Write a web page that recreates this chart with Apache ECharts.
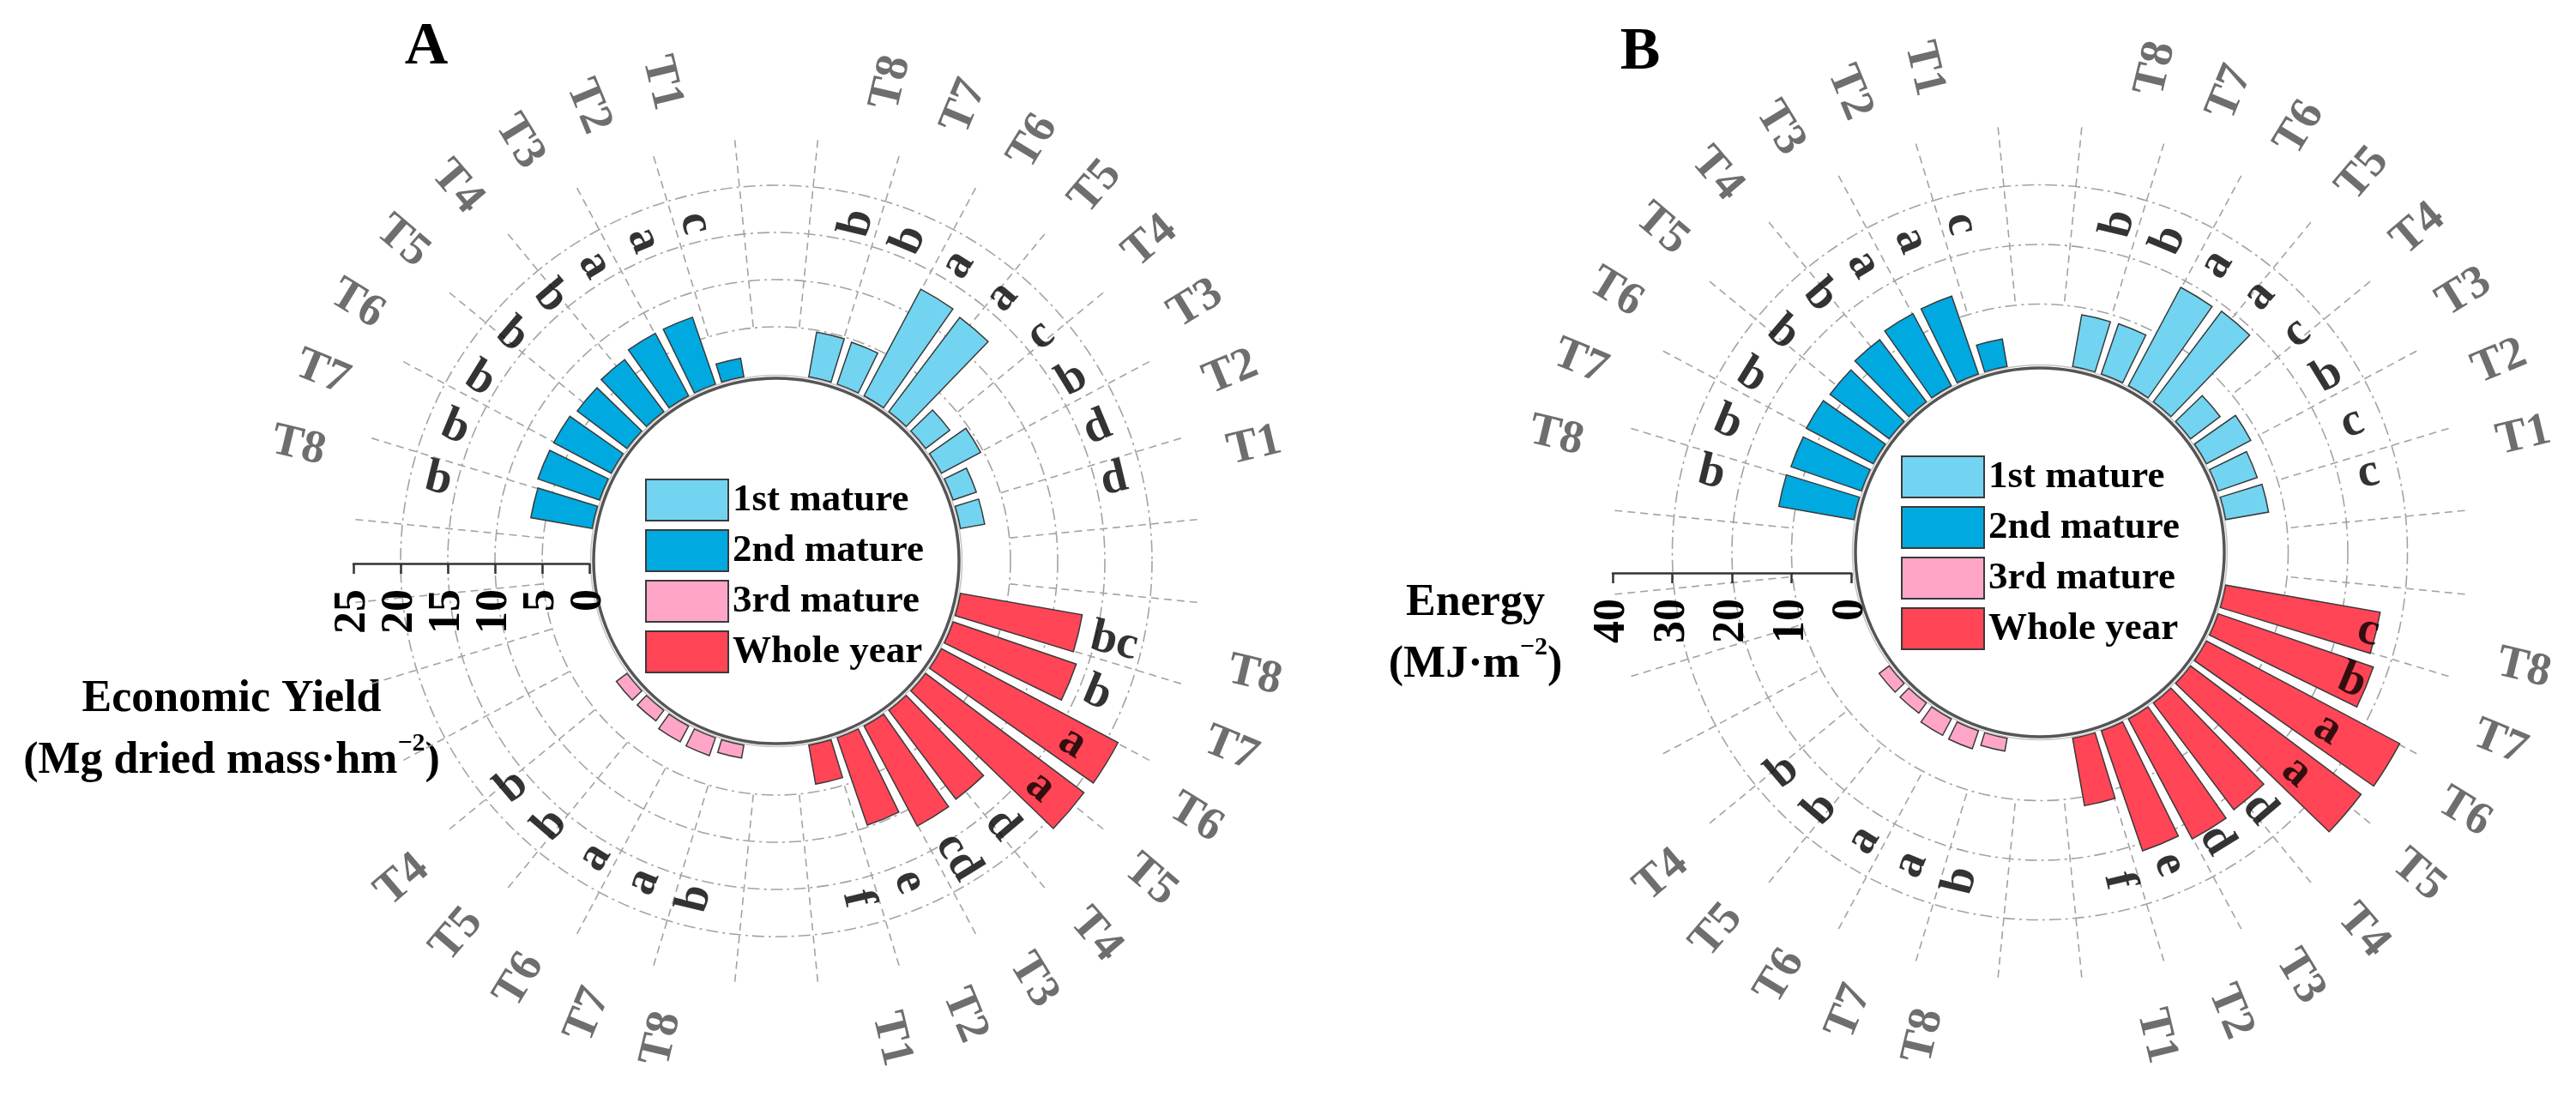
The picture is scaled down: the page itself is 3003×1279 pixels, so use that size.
<!DOCTYPE html>
<html>
<head>
<meta charset="utf-8">
<script src="https://cdn.jsdelivr.net/npm/echarts@6/dist/echarts.min.js"></script>
<style>
html,body{margin:0;padding:0;background:#ffffff;}
#chart{width:3003px;height:1279px;}
</style>
</head>
<body>
<div id="chart"></div>
<script>
// ---------------- DATA ----------------
const treatments = ['T1', 'T2', 'T3', 'T4', 'T5', 'T6', 'T7', 'T8'];
const treatments3rd = ['T4', 'T5', 'T6', 'T7', 'T8'];
const seriesNames = ['1st mature', '2nd mature', '3rd mature', 'Whole year'];

// Panel A: Economic yield (Mg dried mass·hm-2), T1..T8
const yield1st   = [2.6, 2.6, 4.7, 3.2, 12.5, 12.8, 4.7, 4.8];
const yield2nd   = [2.0, 7.5, 7.5, 6.9, 6.6, 6.9, 6.9, 6.6];
const yield3rd   = [1.4, 1.4, 1.9, 2.0, 1.4];            // T4..T8
const yieldWhole = [4.2, 9.8, 12.0, 11.8, 21.0, 21.2, 13.8, 13.1];
const yieldLetters1st   = ['d', 'd', 'b', 'c', 'a', 'a', 'b', 'b'];
const yieldLetters2nd   = ['c', 'a', 'a', 'b', 'b', 'b', 'b', 'b'];
const yieldLetters3rd   = ['b', 'b', 'a', 'a', 'b'];
const yieldLettersWhole = ['f', 'e', 'cd', 'd', 'a', 'a', 'b', 'bc'];
const yieldTicks = [0, 5, 10, 15, 20, 25];

// Panel B: Energy (MJ·m-2), T1..T8
const energy1st   = [7.3, 6.9, 8.4, 6.2, 19.0, 18.7, 8.9, 8.8];
const energy2nd   = [4.7, 13.8, 13.7, 13.0, 12.4, 12.7, 12.5, 12.8];
const energy3rd   = [2.1, 2.1, 3.1, 3.2, 2.2];            // T4..T8
const energyWhole = [11.5, 21.3, 22.8, 22.4, 35.8, 36.7, 27.5, 26.3];
const energyLetters1st   = ['c', 'c', 'b', 'c', 'a', 'a', 'b', 'b'];
const energyLetters2nd   = ['c', 'a', 'a', 'b', 'b', 'b', 'b', 'b'];
const energyLetters3rd   = ['b', 'b', 'a', 'a', 'b'];
const energyLettersWhole = ['f', 'e', 'd', 'd', 'a', 'a', 'b', 'c'];
const energyTicks = [0, 10, 20, 30, 40];

// ---------------- STYLE ----------------
const SERIF = '"Liberation Serif", "Times New Roman", serif';
const seriesColors = {
  '1st mature': '#72D4F0',
  '2nd mature': '#00A9DF',
  '3rd mature': '#FFA6C8',
  'Whole year': '#FF4556'
};
// slot of T8 for each group; Tn sits at base + (8 - n), 40 slots clockwise from 12 o'clock
const groupBase = { '1st mature': 1, 'Whole year': 11, '3rd mature': 21, '2nd mature': 31 };
const SLOTS = 40;
const slotNames = Array.from({ length: SLOTS }, (_, i) => 'slot' + i);
function slotOf(group, t) { return groupBase[group] + (8 - Number(t.slice(1))); }
function slotAngle(s) { return (s + 0.5) * 360 / SLOTS; }
function textRot(s) { const a = slotAngle(s); return a < 180 ? 90 - a : 270 - a; }

const panels = [
  {
    cx: 905, cy: 654, axisY: 657, r0: 218, k: 11, ticks: yieldTicks,
    letterR: 17, tLabelR: 32.3,
    groups: [
      { name: '1st mature', t: treatments, v: yield1st, l: yieldLetters1st },
      { name: '2nd mature', t: treatments, v: yield2nd, l: yieldLetters2nd },
      { name: '3rd mature', t: treatments3rd, v: yield3rd, l: yieldLetters3rd },
      { name: 'Whole year', t: treatments, v: yieldWhole, l: yieldLettersWhole }
    ],
    legend: { left: 747, top: 553 }
  },
  {
    cx: 2378, cy: 644, axisY: 668, r0: 220, k: 6.95, ticks: energyTicks,
    letterR: 25, tLabelR: 51.8,
    groups: [
      { name: '1st mature', t: treatments, v: energy1st, l: energyLetters1st },
      { name: '2nd mature', t: treatments, v: energy2nd, l: energyLetters2nd },
      { name: '3rd mature', t: treatments3rd, v: energy3rd, l: energyLetters3rd },
      { name: 'Whole year', t: treatments, v: energyWhole, l: energyLettersWhole }
    ],
    legend: { left: 2211, top: 526 }
  }
];

const polar = [], angleAxis = [], radiusAxis = [], series = [], legend = [];
const hidden = { axisLine: { show: false }, axisTick: { show: false }, axisLabel: { show: false }, splitLine: { show: false } };

function addPolar(center, radius, aAxis, rAxis) {
  const idx = polar.length;
  polar.push({ center: center, radius: radius });
  angleAxis.push(Object.assign({ polarIndex: idx }, hidden, aAxis));
  radiusAxis.push(Object.assign({ polarIndex: idx }, hidden, rAxis));
  return idx;
}

panels.forEach(p => {
  const max = p.ticks[p.ticks.length - 1];
  const step = p.ticks[1] - p.ticks[0];
  const rMax = p.r0 + p.k * max;
  const circleColors = p.ticks.map((t, i) => (i === 0 || i === p.ticks.length - 1) ? 'rgba(0,0,0,0)' : '#a3a3a3');

  // inner ring
  addPolar([p.cx, p.cy], [0, p.r0 - 5], { type: 'value', axisLine: { show: true, lineStyle: { color: '#555555', width: 3.5 } } }, { type: 'value' });
  addPolar([p.cx, p.cy], [0, p.r0 - 1.5], { type: 'value', axisLine: { show: true, lineStyle: { color: '#c4c4c4', width: 1.5 } } }, { type: 'value' });

  // spokes
  addPolar([p.cx, p.cy], [p.r0 + p.k * step, rMax], {
    type: 'value', min: 0, max: 360, interval: 360 / 32, startAngle: 90 - 360 / 64, clockwise: true,
    splitLine: { show: true, lineStyle: { color: '#a3a3a3', width: 1.6, type: [9, 6] } }
  }, { type: 'value', min: 0, max: 1 });

  // main (bars, circles, letters)
  const main = addPolar([p.cx, p.cy], [p.r0, rMax], {
    type: 'category', data: slotNames, startAngle: 90, clockwise: true, boundaryGap: true
  }, {
    type: 'value', min: 0, max: max, interval: step,
    splitLine: { show: true, lineStyle: { color: circleColors, width: 1.6, type: [14, 5, 3, 5] } }
  });

  // visible radius axis
  addPolar([p.cx, p.axisY], [p.r0, rMax], { type: 'value', min: 0, max: 360, startAngle: 180 }, {
    type: 'value', min: 0, max: max, interval: step,
    axisLine: { show: true, lineStyle: { color: '#333', width: 2.5 } },
    axisTick: { show: true, inside: true, length: 12, lineStyle: { color: '#333', width: 2.5 } },
    axisLabel: { show: true, rotate: 90, margin: 30, fontSize: 52, fontWeight: 'bold', fontFamily: SERIF, color: '#000' }
  });

  // treatment labels
  const lab = addPolar([p.cx, p.cy], [p.r0, p.r0 + p.k * max * 2], {
    type: 'category', data: slotNames, startAngle: 90, clockwise: true, boundaryGap: true
  }, { type: 'value', min: 0, max: max * 2 });

  const letterData = [], tData = [];
  p.groups.forEach(g => {
    const data = new Array(SLOTS).fill(null);
    g.t.forEach((t, i) => {
      const s = slotOf(g.name, t);
      data[s] = g.v[i];
      letterData.push({ name: g.l[i], value: [p.letterR, s], label: { rotate: textRot(s) } });
      tData.push({ name: t, value: [p.tLabelR, s], label: { rotate: textRot(s) } });
    });
    series.push({
      type: 'bar', name: g.name, coordinateSystem: 'polar', polarIndex: main,
      data: data, barGap: '-100%', barCategoryGap: '22%',
      itemStyle: { color: seriesColors[g.name], borderColor: '#3a3a3a', borderWidth: 1.5 },
      z: 3
    });
  });
  series.push({
    type: 'scatter', coordinateSystem: 'polar', polarIndex: main, data: letterData,
    symbolSize: 1, itemStyle: { color: 'rgba(0,0,0,0)' }, z: 6, silent: true,
    label: { show: true, position: 'inside', formatter: '{b}', fontSize: 55, fontWeight: 'bold', fontFamily: SERIF, color: '#000' }
  });
  series.push({
    type: 'scatter', coordinateSystem: 'polar', polarIndex: lab, data: tData,
    symbolSize: 1, itemStyle: { color: 'rgba(0,0,0,0)' }, z: 6, silent: true,
    label: { show: true, position: 'inside', formatter: '{b}', fontSize: 54, fontWeight: 'bold', fontFamily: SERIF, color: '#4a4a4a' }
  });

  legend.push({
    data: seriesNames, orient: 'vertical', left: p.legend.left, top: p.legend.top,
    itemWidth: 96, itemHeight: 48, itemGap: 9, icon: 'rect', selectedMode: false,
    textStyle: { fontSize: 45, fontWeight: 'bold', fontFamily: SERIF, color: '#000' }
  });
});

const richName = {
  n: { fontSize: 52, fontWeight: 'bold', fontFamily: SERIF, lineHeight: 72, color: '#000' },
  s: { fontSize: 30, fontWeight: 'bold', fontFamily: SERIF, lineHeight: 36, verticalAlign: 'top', color: '#000' }
};

const option = {
  backgroundColor: '#ffffff',
  animation: false,
  polar: polar,
  angleAxis: angleAxis,
  radiusAxis: radiusAxis,
  legend: legend,
  series: series,
  graphic: [
    { type: 'text', x: 497, y: 56, style: { text: 'A', font: 'bold 70px ' + SERIF, fill: '#000', align: 'center', verticalAlign: 'middle' } },
    { type: 'text', x: 1912, y: 62, style: { text: 'B', font: 'bold 70px ' + SERIF, fill: '#000', align: 'center', verticalAlign: 'middle' } },
    { type: 'text', x: 270, y: 852, style: { text: '{n|Economic Yield}\n{n|(Mg dried mass·hm}{s|−2}{n|)}', rich: richName, align: 'center', verticalAlign: 'middle' } },
    { type: 'text', x: 1720, y: 740, style: { text: '{n|Energy}\n{n|(MJ·m}{s|−2}{n|)}', rich: richName, align: 'center', verticalAlign: 'middle' } }
  ]
};

const chart = echarts.init(document.getElementById('chart'), null, { renderer: 'canvas', width: 3003, height: 1279 });
chart.setOption(option);
</script>
</body>
</html>
